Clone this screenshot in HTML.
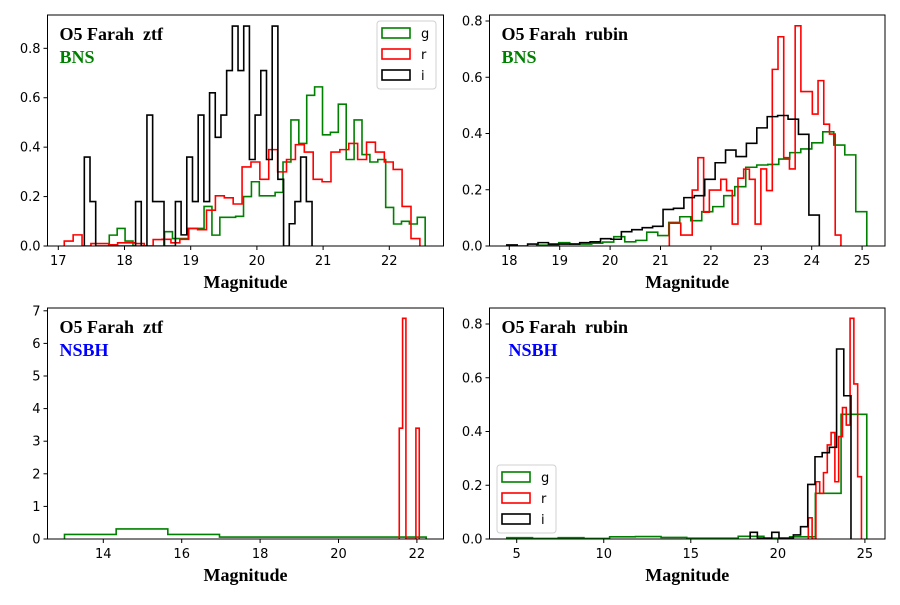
<!DOCTYPE html>
<html><head><meta charset="utf-8">
<style>
html,body{margin:0;padding:0;background:#fff;}
svg text{font-family:"DejaVu Sans","Liberation Sans",sans-serif;}
.ttl{font-family:"Liberation Serif",serif;font-weight:bold;font-size:18px;}
.tick{font-size:13px;fill:#000;}
</style></head>
<body>
<svg id="chart" width="900" height="600" viewBox="0 0 900 600" xmlns="http://www.w3.org/2000/svg"></svg>
<script>
// ---- data: top-left (ztf BNS)
const tlBlackStart = 17.393, tlBlackWidth = 0.086;
const tlBlack = [0.36,0.18,0,0,0,0,0,0,0,0.18,0,0.53,0.18,0.18,0,0,0.18,0.045,0.36,0.18,0.53,0.18,0.62,0.44,0.53,0.71,0.89,0.71,0.89,0.35,0.53,0.71,0.35,0.89,0.27,0,0.09,0.18,0.36,0.18];
const tlRedStart = 17.09, tlRedWidth = 0.1343;
const tlRed = [0.02,0.045,0,0.01,0.01,0.005,0.013,0.013,0.01,0,0.026,0.027,0.013,0.027,0.071,0.066,0.145,0.203,0.195,0.17,0.32,0.34,0.27,0.39,0.30,0.35,0.41,0.38,0.27,0.26,0.38,0.39,0.415,0.35,0.42,0.38,0.34,0.31,0.16,0.03];
const tlGreenStart = 17.77, tlGreenWidth = 0.1193;
const tlGreen = [0.044,0.071,0.02,0,0,0,0,0.058,0.03,0.03,0.071,0.071,0.16,0.044,0.116,0.116,0.12,0.2,0.26,0.203,0.203,0.217,0.34,0.51,0.415,0.61,0.644,0.45,0.46,0.574,0.35,0.51,0.37,0.34,0.35,0.156,0.089,0.1,0.089,0.116];
// ---- top-right (rubin BNS)
const trBlackStart = 17.95, trBlackWidth = 0.2067;
const trBlack = [0.004,0.0,0.007,0.012,0.007,0.007,0.007,0.012,0.015,0.026,0.024,0.051,0.058,0.065,0.07,0.13,0.134,0.172,0.179,0.237,0.296,0.341,0.318,0.365,0.42,0.46,0.464,0.451,0.397,0.11];
const trRedStart = 21.175, trRedWidth = 0.1135;
const trRed = [0.081,0.081,0.039,0.039,0.199,0.314,0.12,0.199,0.199,0.237,0.197,0.078,0.241,0.273,0.237,0.078,0.274,0.197,0.628,0.744,0.314,0.274,0.783,0.549,0.549,0.469,0.588,0.433,0.398,0.039];
const trGreenStart = 18.544, trGreenWidth = 0.2183;
const trGreen = [0.003,0.003,0.012,0.007,0.007,0.01,0.014,0.033,0.015,0.02,0.049,0.037,0.084,0.104,0.09,0.122,0.14,0.179,0.211,0.28,0.288,0.29,0.309,0.332,0.345,0.367,0.406,0.359,0.324,0.122];
// ---- bottom-left (ztf NSBH)
const blGreenStart = 13.01, blGreenWidth = 1.318;
const blGreen = [0.14,0.31,0.14,0.06,0.06,0.06,0.06];
const blRedStart = 21.55, blRedWidth = 0.085;
const blRed = [3.4,6.77,0,0,0,3.4];
// ---- bottom-right (rubin NSBH)
const brGreenStart = 4.43, brGreenWidth = 1.477;
const brGreen = [0.005,0.002,0.005,0.002,0.008,0.009,0.006,0.003,0.003,0.01,0.003,0.008,0.17,0.464];
const brRedStart = 21.75, brRedWidth = 0.218;
const brRed = [0.079,0,0.213,0.17,0.247,0.35,0.396,0.213,0.381,0.489,0.424,0.821,0.577,0.232];
const brBlackStart = 18.41, brBlackWidth = 0.4136;
const brBlack = [0.025,0.003,0.003,0.025,0.003,0.003,0.015,0.046,0.203,0.306,0.321,0.341,0.707,0.533];
// ---- ticks
const tlXTicks = [17,18,19,20,21,22];
const trXTicks = [18,19,20,21,22,23,24,25];
const blXTicks = [14,16,18,20,22];
const brXTicks = [5,10,15,20,25];
const fracYTicks = [0.0,0.2,0.4,0.6,0.8];
const intYTicks = [0,1,2,3,4,5,6,7];

const NS = "http://www.w3.org/2000/svg";
const svg = document.getElementById('chart');
function mk(tag, attrs, parent){
  const e = document.createElementNS(NS, tag);
  for (const k in attrs) e.setAttribute(k, attrs[k]);
  (parent||svg).appendChild(e);
  return e;
}

function panel(p){
  const g = mk('g', {});
  
  
  const X = m => p.x0px + (m - p.x0v) * p.xs;
  const Y = v => p.y0px - v * p.ys;
  const cid = 'clip-' + p.name;
  const cp = mk('clipPath', {id: cid}, g);
  mk('rect', {x:p.l, y:p.t, width:p.r-p.l, height:p.b-p.t}, cp);
  const sg = mk('g', {'clip-path':'url(#'+cid+')'}, g);
  p.series.forEach(s => {
    let d = 'M' + X(s.start).toFixed(2) + ',' + Y(0).toFixed(2);
    s.vals.forEach((v, i) => {
      d += ' V' + Y(v).toFixed(2) + ' H' + X(s.start + (i+1)*s.width).toFixed(2);
    });
    d += ' V' + Y(0).toFixed(2);
    const path = mk('path', {d:d, fill:'none', stroke:s.color, 'stroke-width':1.6, 'stroke-linejoin':'miter'}, sg);
    
    
  });
  const frame = mk('rect', {x:p.l, y:p.t, width:p.r-p.l, height:p.b-p.t, fill:'none', stroke:'#000', 'stroke-width':1}, g);
  
  
  p.xticks.forEach(t => {
    const x = X(t);
    mk('line', {x1:x, x2:x, y1:p.b, y2:p.b+4, stroke:'#000', 'stroke-width':1}, g);
    const tx = mk('text', {x:x, y:p.b+19, 'text-anchor':'middle', class:'tick'}, g);
    tx.textContent = String(t);
    
    
  });
  p.yticks.forEach(t => {
    const y = Y(t);
    mk('line', {x1:p.l-4, x2:p.l, y1:y, y2:y, stroke:'#000', 'stroke-width':1}, g);
    const tx = mk('text', {x:p.l-7, y:y+4.5, 'text-anchor':'end', class:'tick'}, g);
    tx.textContent = p.yfmt(t);
    
    
  });
  const xl = mk('text', {x:(p.l+p.r)/2, y:p.b+42, 'text-anchor':'middle', class:'ttl'}, g);
  xl.textContent = 'Magnitude';
  
  
  const t1 = mk('text', {x:p.l+12, y:p.t+25, class:'ttl', fill:'#000'}, g);
  t1.textContent = p.title;
  t1.setAttribute('xml:space', 'preserve');
  t1.style.whiteSpace = 'pre';
  
  
  const t2 = mk('text', {x:p.l+p.subdx, y:p.t+48, class:'ttl', fill:p.subColor}, g);
  t2.textContent = p.sub;
  
  
  if (p.legend){
    const L = p.legend;
    const lg = mk('g', {}, g);
    
    
    mk('rect', {x:L.x, y:L.y, width:59, height:68, rx:3, fill:'#fff', 'fill-opacity':0.8, stroke:'#d0d0d0', 'stroke-width':1}, lg);
    [['g','green'],['r','red'],['i','black']].forEach((e, i) => {
      const cy = L.y + 12 + i*21;
      const eg = mk('g', {}, lg);
      
      
      mk('rect', {x:L.x+5, y:cy-5, width:28, height:10, fill:'none', stroke:e[1], 'stroke-width':1.6}, eg);
      const tt = mk('text', {x:L.x+44, y:cy+5, class:'tick'}, eg);
      tt.textContent = e[0];
    });
  }
}

const frac = t => t.toFixed(1);
panel({name:'panel-ztf-bns', l:47.5, r:443.5, t:15, b:246, x0v:17, x0px:58.3, xs:66.2, y0px:246, ys:247.1,
  xticks:tlXTicks, yticks:fracYTicks, yfmt:frac, title:'O5 Farah  ztf', sub:'BNS', subColor:'green', subdx:12,
  legend:{x:377, y:21},
  series:[{name:'hist-g',color:'green',start:tlGreenStart,width:tlGreenWidth,vals:tlGreen},
          {name:'hist-r',color:'red',start:tlRedStart,width:tlRedWidth,vals:tlRed},
          {name:'hist-i',color:'black',start:tlBlackStart,width:tlBlackWidth,vals:tlBlack}]});
panel({name:'panel-rubin-bns', l:489.5, r:885, t:15, b:246, x0v:18, x0px:509.3, xs:50.4, y0px:246, ys:281.25,
  xticks:trXTicks, yticks:fracYTicks, yfmt:frac, title:'O5 Farah  rubin', sub:'BNS', subColor:'green', subdx:12,
  series:[{name:'hist-g',color:'green',start:trGreenStart,width:trGreenWidth,vals:trGreen},
          {name:'hist-r',color:'red',start:trRedStart,width:trRedWidth,vals:trRed},
          {name:'hist-i',color:'black',start:trBlackStart,width:trBlackWidth,vals:trBlack}]});
panel({name:'panel-ztf-nsbh', l:47.5, r:443.5, t:308, b:539, x0v:14, x0px:103.3, xs:39.2, y0px:539, ys:32.6,
  xticks:blXTicks, yticks:intYTicks, yfmt:t=>String(t), title:'O5 Farah  ztf', sub:'NSBH', subColor:'blue', subdx:12,
  series:[{name:'hist-g',color:'green',start:blGreenStart,width:blGreenWidth,vals:blGreen},
          {name:'hist-r',color:'red',start:blRedStart,width:blRedWidth,vals:blRed}]});
panel({name:'panel-rubin-nsbh', l:489.5, r:885, t:308, b:539, x0v:5, x0px:516.7, xs:17.41, y0px:539, ys:268.75,
  xticks:brXTicks, yticks:fracYTicks, yfmt:frac, title:'O5 Farah  rubin', sub:'NSBH', subColor:'blue', subdx:19,
  legend:{x:497, y:465},
  series:[{name:'hist-g',color:'green',start:brGreenStart,width:brGreenWidth,vals:brGreen},
          {name:'hist-r',color:'red',start:brRedStart,width:brRedWidth,vals:brRed},
          {name:'hist-i',color:'black',start:brBlackStart,width:brBlackWidth,vals:brBlack}]});
</script>
</body></html>
